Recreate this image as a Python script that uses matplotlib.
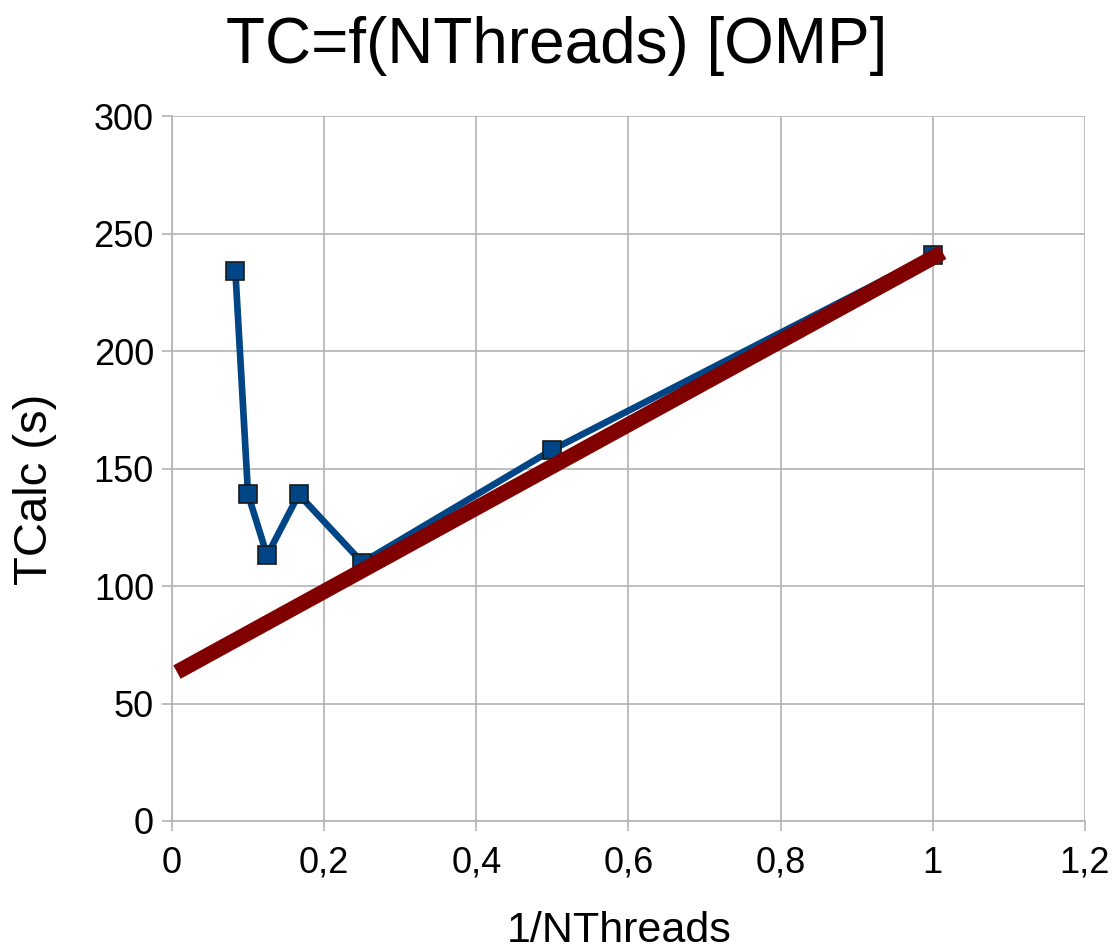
import matplotlib
matplotlib.use("Agg")
import matplotlib.pyplot as plt
import numpy as np

# data
inv_threads = [1/12, 1/10, 1/8, 1/6, 1/4, 1/2, 1]
tcalc = [234, 139, 113, 139, 110, 158, 241]

# linear trend line (slope, intercept, x span)
trend_slope = 177.5
trend_intercept = 62.2
trend_x = np.array([0.0066, 1.013])

plt.rcParams['font.family'] = ['Liberation Sans', 'DejaVu Sans']

fig = plt.figure(figsize=(11.13, 9.51), dpi=100)
ax = fig.add_axes([0.1545, 0.1367, 0.8203, 0.7413])

ax.plot(trend_x, trend_intercept + trend_slope * trend_x, color='#800000',
        lw=11, solid_capstyle='butt', zorder=4)
ax.plot(inv_threads, tcalc, color='#004586', lw=4.8, marker='s', ms=13.5,
        mfc='#004586', mec='#1a1a1a', mew=1.2, zorder=3)

ax.set_xlim(0, 1.2)
ax.set_ylim(0, 300)
ax.set_xticks(np.arange(0, 1.21, 0.2))
ax.set_xticklabels(['0', '0,2', '0,4', '0,6', '0,8', '1', '1,2'])
ax.set_yticks(np.arange(0, 301, 50))
ax.grid(True, color='#b3b3b3', lw=1.2)
ax.set_axisbelow(True)
for s in ['top', 'right']:
    ax.spines[s].set_visible(False)
for s in ['left', 'bottom']:
    ax.spines[s].set_color('#b3b3b3')
    ax.spines[s].set_linewidth(1.2)
ax.tick_params(length=7, width=1.2, color='#b3b3b3', labelsize=26)
ax.tick_params(axis='x', pad=11)
ax.tick_params(axis='y', pad=6)

fig.suptitle('TC=f(NThreads) [OMP]', fontsize=46, x=0.5, y=0.983, va='top')
ax.set_xlabel('1/NThreads', fontsize=31, va='top')
ax.set_ylabel('TCalc (s)', fontsize=34)
ax.xaxis.set_label_coords(0.49, -0.128)
ax.yaxis.set_label_coords(-0.126, 0.47)

fig.savefig('out.png', dpi=100)
